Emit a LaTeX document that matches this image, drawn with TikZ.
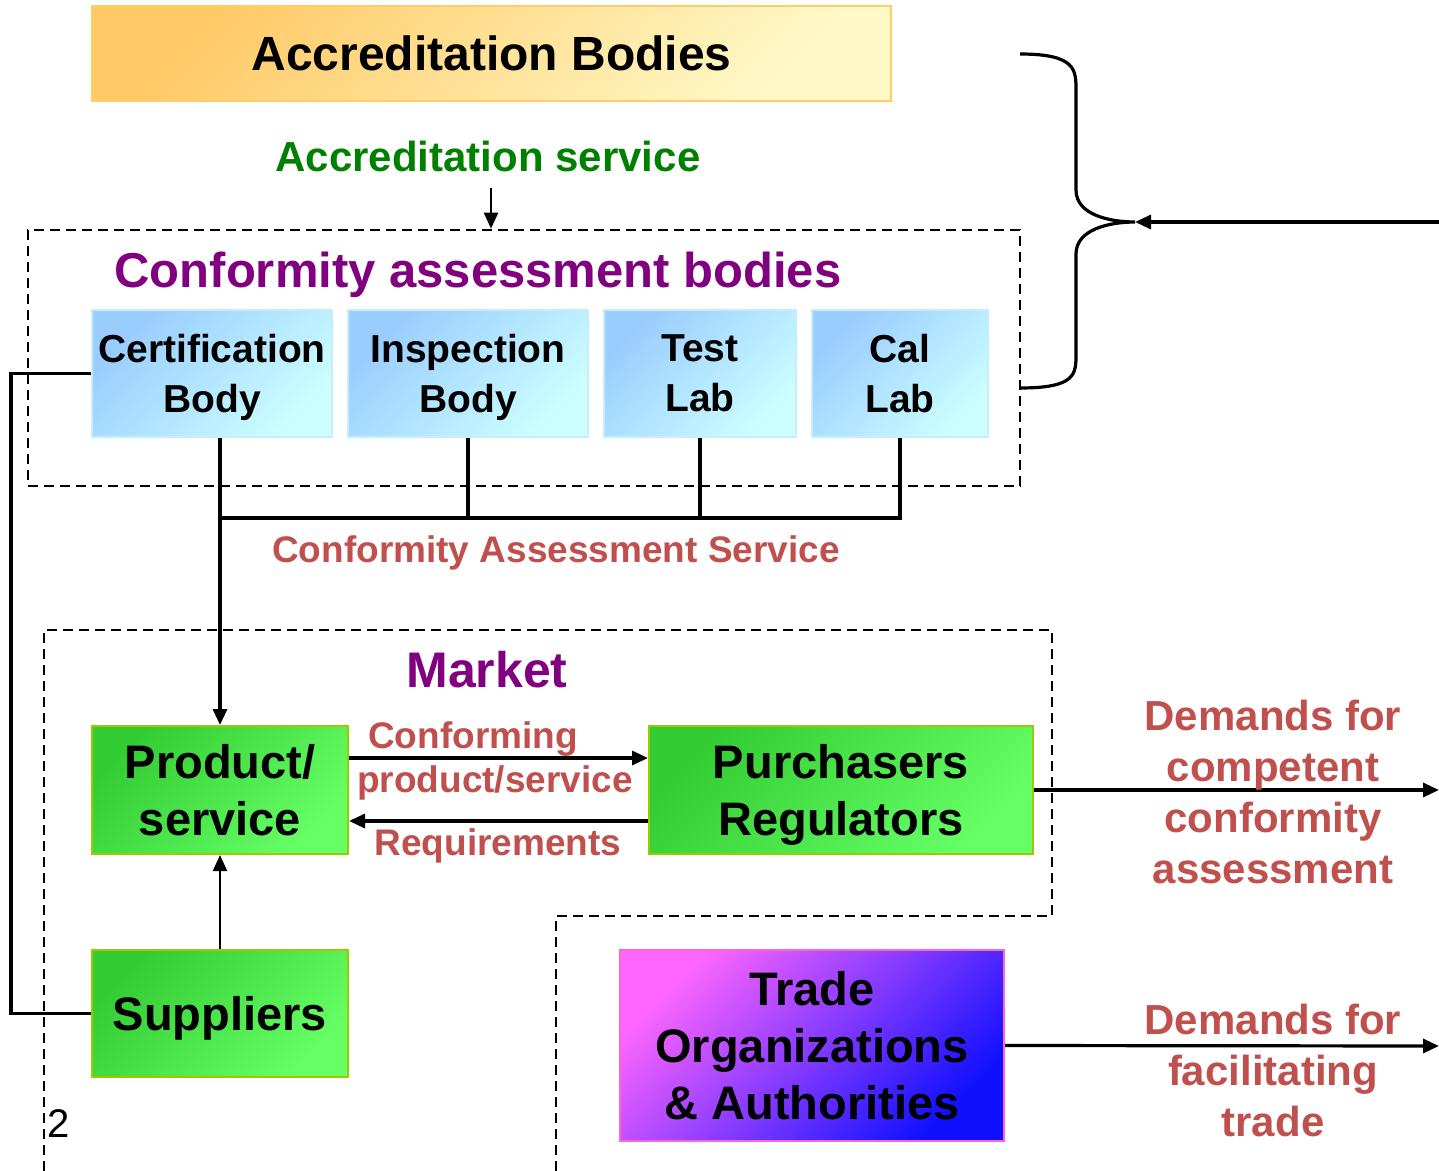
\documentclass[tikz,border=0pt]{standalone}
\usepackage{fontspec}
\setmainfont{Liberation Sans}
\usetikzlibrary{arrows.meta}

\definecolor{acctop}{HTML}{FFC966}
\definecolor{accbot}{HTML}{FFF9C8}
\definecolor{accrim}{HTML}{FFCC66}
\definecolor{bluetop}{HTML}{99CCFF}
\definecolor{bluebot}{HTML}{CCFFFF}
\definecolor{bluerim}{HTML}{C6ECFF}
\definecolor{greentop}{HTML}{33CC33}
\definecolor{greenbot}{HTML}{66FF66}
\definecolor{greenrim}{HTML}{99CC00}
\definecolor{tradetop}{HTML}{FF66FF}
\definecolor{tradebot}{HTML}{1010FF}
\definecolor{traderim}{HTML}{FF66CC}
\definecolor{titlepurple}{HTML}{800080}
\definecolor{accgreen}{HTML}{008000}
\definecolor{labelred}{HTML}{C0504D}

\begin{document}
\begin{tikzpicture}[x=0.5pt,y=-0.5pt,line width=1.6pt,>={Triangle[length=8pt,width=7pt]},
    dashedbox/.style={draw,dash pattern=on 5pt off 3pt,line width=1.3pt},
    accbox/.style={draw=accrim,line width=1pt,top color=acctop,bottom color=accbot,shading angle=45,inner sep=0pt,font=\fontsize{24}{28}\selectfont\bfseries},
    cabbox/.style={draw=bluerim,line width=1pt,top color=bluetop,bottom color=bluebot,shading angle=45,inner sep=0pt,minimum height=63.5pt,text depth=0pt,align=center,font=\fontsize{19.5}{25}\selectfont\bfseries},
    mktbox/.style={draw=greenrim,line width=1pt,top color=greentop,bottom color=greenbot,shading angle=45,inner sep=0pt,minimum height=64pt,text depth=0pt,align=center,font=\fontsize{23.5}{28.5}\selectfont\bfseries},
    tradebox/.style={draw=traderim,line width=1pt,top color=tradetop,bottom color=tradebot,shading angle=45,inner sep=0pt,text depth=0pt,align=center,font=\fontsize{23.5}{28.5}\selectfont\bfseries},
    title/.style={text=titlepurple,font=\fontsize{24.5}{28}\selectfont\bfseries},
    svclabel/.style={text=labelred,font=\fontsize{18.5}{22}\selectfont\bfseries},
    demand/.style={text=labelred,align=center,font=\fontsize{21}{25.5}\selectfont\bfseries}]
    \useasboundingbox (0,0) rectangle (1439,1171);

    \node(acc) at (491.5,53.5) [accbox,minimum width=399.5pt,minimum height=47.5pt]{Accreditation Bodies};
    \node(accsvc) at (488,156) [text=accgreen,font=\fontsize{21}{25}\selectfont\bfseries]{Accreditation service};
    \node(cab) at (524,358) [dashedbox,minimum width=496pt,minimum height=128pt]{};
    \node(cabtitle) at (478,275) [title]{Conformity assessment bodies};
    \node(cert) at (212,373.5) [cabbox,minimum width=120pt]{Certification\\Body};
    \node(insp) at (468,373.5) [cabbox,minimum width=120pt]{Inspection\\Body};
    \node(test) at (700,373.5) [cabbox,minimum width=96pt]{Test\\Lab};
    \node(cal) at (900,373.5) [cabbox,minimum width=88pt]{Cal\\Lab};

    % market
    \draw[dashedbox] (44,1171) -- (44,630) -- (1052,630) -- (1052,916) -- (556,916) -- (556,1171);
    \node(mkt) at (487,670) [title,font=\fontsize{25}{28}\selectfont\bfseries]{Market};
    \node(prod) at (220,790) [mktbox,minimum width=128pt]{Product/\\service};
    \node(pur) at (841,790) [mktbox,minimum width=192pt]{Purchasers\\Regulators};
    \node(sup) at (220,1013.5) [mktbox,minimum width=128pt,minimum height=63.5pt]{Suppliers};
    \node(trade) at (812,1045.5) [tradebox,minimum width=192pt,minimum height=95.5pt]{Trade\\Organizations\\\& Authorities};

    \coordinate(s0) at (491,188);
    \draw[->,line width=1.2pt] (s0) -- (cab.north -| s0);

    \coordinate(bus) at (220,518);
    \draw[->] (cert.south -| prod) -- (prod.north);
    \draw (cal.south) |- (bus);
    \draw (insp.south) -- (insp.south |- bus);
    \draw (test.south) -- (test.south |- bus);
    \node(cas) at (556,553) [svclabel]{Conformity Assessment Service};

    \draw (cert.west) -- ++(-80,0) |- (sup.west);

    \draw[->] (prod.east |- 0,758) -- (pur.west |- 0,758);
    \draw[->] (pur.west |- 0,821) -- (prod.east |- 0,821);
    \node(conf1) at (473,739) [svclabel]{Conforming};
    \node(conf2) at (495,783) [svclabel]{product/service};
    \node(req) at (498,846) [svclabel]{Requirements};
    \draw[->,line width=1pt] (sup) -- (prod);

    \coordinate(out1) at (1439,790);
    \coordinate(out2) at (1439,1046);
    \draw[->] (pur.east) -- (out1);
    \draw[->] (trade.east) -- (out2);
    \node(dem1) at (1273,792) [demand]{Demands for\\competent\\conformity\\assessment};
    \node(dem2) at (1273,1070) [demand]{Demands for\\facilitating\\trade};

    % brace
    \coordinate(tip) at (1135,222);
    \coordinate(in1) at (1439,222);
    \draw (1020,54) .. controls (1076,54) and (1076,70) .. (1076,90) -- (1076,190) .. controls (1076,215) and (1110,222) .. (tip) .. controls (1110,222) and (1076,229) .. (1076,254) -- (1076,354) .. controls (1076,374) and (1076,388) .. (1020,388);
    \draw[->] (in1) -- (tip);

    \node(pg) at (59,1124) [font=\fontsize{20}{24}\selectfont]{2};
\end{tikzpicture}
\end{document}
